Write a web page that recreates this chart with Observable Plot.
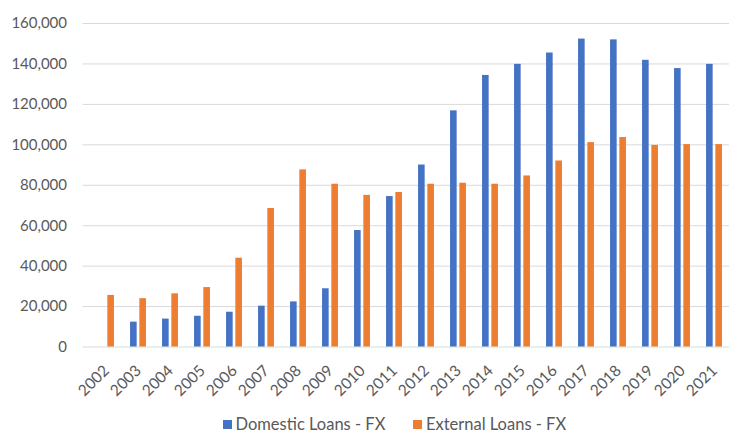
<!DOCTYPE html>
<html><head><meta charset="utf-8">
<script src="https://cdn.jsdelivr.net/npm/d3@7"></script>
<script src="https://cdn.jsdelivr.net/npm/@observablehq/plot@0.6"></script>
<style>
body{margin:0;overflow:hidden;background:#fff;font-family:Lato,sans-serif;}
#wrap{position:relative;width:729px;height:434px;overflow:hidden;}
#chart svg{max-width:none !important;}
#legend{position:absolute;left:223px;top:415px;display:flex;align-items:center;font-size:16.5px;color:#595959;white-space:nowrap;line-height:19px;}
.item{display:flex;align-items:center;margin-right:28px;}
.sw{width:8.5px;height:8.5px;margin-right:4px;display:inline-block;}
</style></head><body>
<div id="wrap"><div id="chart"></div><div id="legend"></div></div>
<script>
const years = ["2002","2003","2004","2005","2006","2007","2008","2009","2010","2011","2012","2013","2014","2015","2016","2017","2018","2019","2020","2021"];
const domestic = [0,12300,13800,15200,17200,20200,22300,28800,57600,74400,90000,116800,134300,139800,145400,152300,151900,141800,137700,139800];
const external = [25500,23900,26300,29400,43900,68500,87600,80500,75000,76400,80500,81000,80500,84600,92000,101100,103600,99700,100100,100100];
const seriesNames = ["Domestic Loans - FX","External Loans - FX"];
const colors = ["#4472C4","#ED7D31"];
const yTicks = [0,20000,40000,60000,80000,100000,120000,140000,160000];

const domRows = years.map((y,i)=>({year:y, value:domestic[i]}));
const extRows = years.map((y,i)=>({year:y, value:external[i]}));

const plot = Plot.plot({
  width: 737, height: 412,
  marginLeft: 82.5, marginRight: 0, marginTop: 23, marginBottom: 65.5,
  style: {fontFamily:"Lato, sans-serif", color:"#595959", background:"#fff", overflow:"visible", maxWidth:"none"},
  x: {domain: years, padding: 0, label: null},
  y: {domain: [0,160000], label: null},
  marks: [
    Plot.ruleY(yTicks, {stroke:"#d9d9d9", strokeWidth:1}),
    Plot.barY(domRows, {x:"year", y:"value", fill:colors[0], insetLeft:8.05, insetRight:17.35}),
    Plot.barY(extRows, {x:"year", y:"value", fill:colors[1], insetLeft:17.35, insetRight:8.05}),
    Plot.axisY(yTicks, {tickSize:0, tickPadding:16, tickFormat:d3.format(","), fontSize:15, label:null}),
    Plot.axisX({tickSize:0, tickRotate:-45, tickPadding:21, fontSize:15.5, label:null})
  ]
});
document.getElementById("chart").appendChild(plot);

const legend = document.getElementById("legend");
seriesNames.forEach((n,i)=>{
  const it = document.createElement("div"); it.className="item";
  const sw = document.createElement("span"); sw.className="sw"; sw.style.background=colors[i];
  const tx = document.createElement("span"); tx.textContent=n;
  it.appendChild(sw); it.appendChild(tx); legend.appendChild(it);
});
</script>
</body></html>
